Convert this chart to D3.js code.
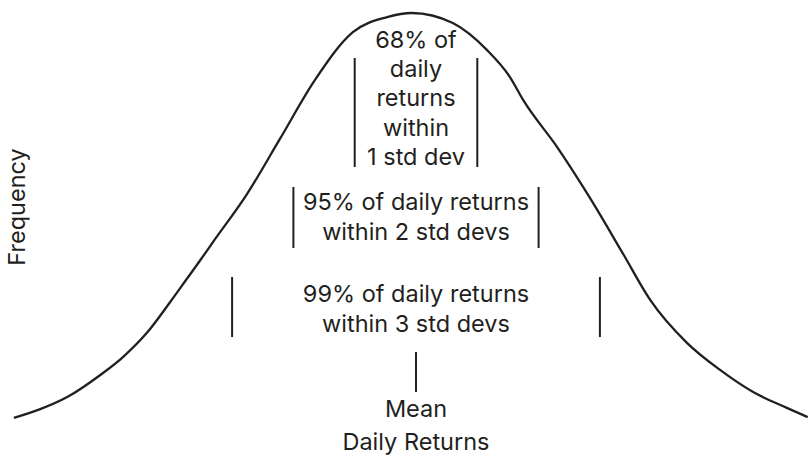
<!DOCTYPE html>
<html>
<head>
<meta charset="utf-8">
<script src="https://cdn.jsdelivr.net/npm/d3@7"></script>
<style>
  html, body { margin: 0; padding: 0; background: #fff; }
  svg { display: block; }
  text { font-family: Inter, "Open Sans", sans-serif; fill: #231f20; }
</style>
</head>
<body>
<svg id="chart" width="810" height="471"></svg>
<script>
// Curve: daily return (in std devs from the mean) vs relative frequency
const returns = [-6.56, -6.13, -5.69, -5.15, -4.78, -4.39, -4.01, -3.74, -3.52, -3.31, -2.76, -2.22, -1.65, -1.03, -0.47, -0.07, 0.60, 1.16, 1.53, 1.75, 2.30, 2.84, 3.38, 3.82, 4.42, 4.96, 5.50, 6.05, 6.39];
const frequency = [0.029, 0.050, 0.079, 0.132, 0.175, 0.233, 0.307, 0.362, 0.407, 0.451, 0.565, 0.698, 0.839, 0.954, 0.990, 1.000, 0.976, 0.911, 0.847, 0.791, 0.679, 0.556, 0.422, 0.312, 0.209, 0.144, 0.091, 0.053, 0.031];

// Std-dev bands and their labels
const bandSds = [1, 2, 3];
const bandLabels = [
  ["68% of", "daily", "returns", "within", "1 std dev"],
  ["95% of daily returns", "within 2 std devs"],
  ["99% of daily returns", "within 3 std devs"]
];
const meanLabel = "Mean";
const xTitle = "Daily Returns";
const yTitle = "Frequency";

const ink = "#231f20";
const fs = 23.5;
const svg = d3.select("#chart");

const x = d3.scaleLinear().domain([-1, 1]).range([416 - 61.3, 416 + 61.3]);
const y = d3.scaleLinear().domain([0, 1]).range([430, 13]);

const pts = returns.map((r, i) => [r, frequency[i]]);
const line = d3.line()
  .x(d => x(d[0]))
  .y(d => y(d[1]))
  .curve(d3.curveMonotoneX);

svg.append("path")
  .datum(pts)
  .attr("d", line)
  .attr("fill", "none")
  .attr("stroke", ink)
  .attr("stroke-width", 2.3)
  .attr("stroke-linejoin", "round");

// bracket layout (vertical extents of the bar pairs) and label baselines
const bandLayout = [
  { top: 58, bottom: 167, firstBaseline: 48, lineGap: 29.2 },
  { top: 187, bottom: 248, firstBaseline: 210, lineGap: 29.5 },
  { top: 277, bottom: 337, firstBaseline: 302, lineGap: 30 }
];

bandSds.forEach((sd, i) => {
  const L = bandLayout[i];
  [-sd, sd].forEach(v => {
    svg.append("line")
      .attr("x1", x(v)).attr("x2", x(v))
      .attr("y1", L.top).attr("y2", L.bottom)
      .attr("stroke", ink).attr("stroke-width", 2);
  });
  const t = svg.append("text")
    .attr("x", x(0))
    .attr("y", L.firstBaseline)
    .attr("text-anchor", "middle")
    .attr("font-size", fs);
  bandLabels[i].forEach((s, j) => {
    t.append("tspan")
      .attr("x", x(0))
      .attr("y", L.firstBaseline + j * L.lineGap)
      .text(s);
  });
});

// Mean marker
svg.append("line")
  .attr("x1", x(0)).attr("x2", x(0))
  .attr("y1", 352).attr("y2", 392)
  .attr("stroke", ink).attr("stroke-width", 2);

svg.append("text")
  .attr("x", x(0)).attr("y", 417)
  .attr("text-anchor", "middle")
  .attr("font-size", fs)
  .text(meanLabel);

svg.append("text")
  .attr("x", x(0)).attr("y", 450)
  .attr("text-anchor", "middle")
  .attr("font-size", fs)
  .text(xTitle);

svg.append("text")
  .attr("transform", "translate(25,207) rotate(-90)")
  .attr("text-anchor", "middle")
  .attr("font-size", fs)
  .text(yTitle);
</script>
</body>
</html>
